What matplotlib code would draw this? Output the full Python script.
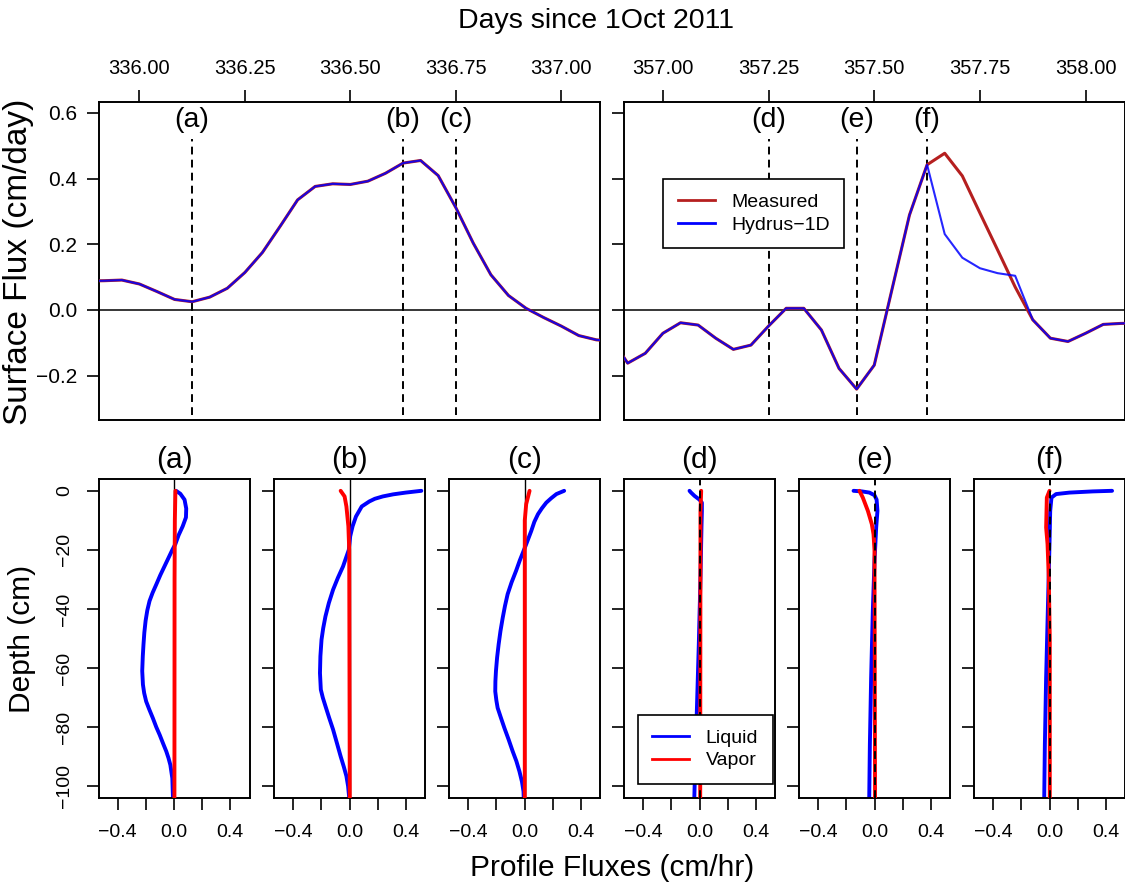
import matplotlib
matplotlib.use("Agg")
import matplotlib.pyplot as plt
from matplotlib.lines import Line2D

plt.rcParams['font.family'] = ['Liberation Sans', 'DejaVu Sans']

# hourly surface flux (cm/day); hour offsets from the start day
hours = list(range(-3, 28))
left_day0 = 336.0
right_day0 = 357.0

left_flux = [0.088, 0.089, 0.091, 0.079, 0.056, 0.032, 0.025, 0.039, 0.066,
             0.114, 0.175, 0.254, 0.335, 0.376, 0.384, 0.382, 0.392, 0.416,
             0.447, 0.455, 0.409, 0.312, 0.203, 0.107, 0.044, 0.005, -0.023,
             -0.049, -0.078, -0.091, -0.095]

right_measured = [-0.08, -0.162, -0.132, -0.071, -0.039, -0.046, -0.086,
                  -0.120, -0.107, -0.049, 0.005, 0.005, -0.061, -0.178,
                  -0.241, -0.168, 0.061, 0.289, 0.442, 0.477, 0.408, 0.295,
                  0.183, 0.070, -0.030, -0.086, -0.096, -0.071, -0.044,
                  -0.041, -0.040]
right_hydrus = [-0.08, -0.162, -0.132, -0.071, -0.039, -0.046, -0.086,
                -0.120, -0.107, -0.049, 0.005, 0.005, -0.061, -0.178,
                -0.241, -0.168, 0.061, 0.289, 0.442, 0.231, 0.159, 0.127,
                0.112, 0.104, -0.030, -0.086, -0.096, -0.071, -0.044,
                -0.041, -0.040]

left_events = [336.125, 336.625, 336.75]
right_events = [357.25, 357.4583, 357.625]
left_event_labels = ["(a)", "(b)", "(c)"]
right_event_labels = ["(d)", "(e)", "(f)"]

left_xticks = [336.0, 336.25, 336.5, 336.75, 337.0]
right_xticks = [357.0, 357.25, 357.5, 357.75, 358.0]
flux_yticks = [-0.2, 0.0, 0.2, 0.4, 0.6]

# profile fluxes (cm/hr) as (depth cm, flux) pairs
liquid_a = [(0, 0.015), (-1, 0.045), (-3, 0.075), (-6, 0.087), (-9, 0.085),
            (-12, 0.062), (-15, 0.033), (-18, 0.01), (-20, -0.012),
            (-25, -0.062), (-28.5, -0.097), (-31.7, -0.126), (-34.5, -0.152),
            (-37.3, -0.174), (-40.5, -0.19), (-44, -0.202), (-48, -0.211),
            (-52, -0.217), (-56, -0.222), (-61, -0.226), (-65.6, -0.221),
            (-68.5, -0.212), (-71.3, -0.198), (-74, -0.176), (-77, -0.15),
            (-80, -0.126), (-82.6, -0.102), (-85.5, -0.078), (-88.2, -0.055),
            (-90.5, -0.039), (-92.8, -0.026), (-97.3, -0.012),
            (-106, -0.006)]
vapor_a = [(0, 0.01), (-10, 0.006), (-30, 0.004), (-106, 0.003)]

liquid_b = [(0, 0.511), (-0.6, 0.40), (-1.2, 0.31), (-1.9, 0.237),
            (-2.7, 0.18), (-3.6, 0.141), (-5.3, 0.087), (-8.7, 0.046),
            (-12, 0.022), (-15.4, 0.005), (-20, -0.005), (-25.6, -0.046),
            (-29.5, -0.083), (-33.5, -0.117), (-38, -0.147), (-42.5, -0.171),
            (-46.5, -0.187), (-50.4, -0.199), (-56, -0.207), (-61.7, -0.21),
            (-67.3, -0.204), (-70, -0.19), (-72.9, -0.171), (-76.8, -0.145),
            (-80.8, -0.117), (-85.5, -0.089), (-89.9, -0.063),
            (-93.5, -0.04), (-96.6, -0.022), (-100, -0.01), (-104, -0.002),
            (-106, 0.0)]
vapor_b = [(0, -0.063), (-1.9, -0.035), (-5.3, -0.022), (-12, -0.008),
           (-20, -0.002), (-106, 0.002)]

liquid_c = [(0, 0.282), (-1.1, 0.227), (-2.5, 0.19), (-4, 0.155),
            (-5.9, 0.124), (-7.9, 0.096), (-10.5, 0.07), (-13.6, 0.048),
            (-18.1, 0.012), (-20.4, -0.007), (-23.5, -0.033), (-27.1, -0.06),
            (-31, -0.092), (-35, -0.12), (-39, -0.139), (-43, -0.155),
            (-47.5, -0.171), (-52, -0.184), (-56.5, -0.195), (-61, -0.203),
            (-64.5, -0.207), (-67.9, -0.208), (-71, -0.2), (-73.5, -0.191),
            (-76.8, -0.168), (-80.3, -0.143), (-84.2, -0.113),
            (-88.2, -0.084), (-91.5, -0.058), (-95, -0.036),
            (-98.5, -0.018), (-101.8, -0.007), (-106, -0.004)]
vapor_c = [(0, 0.036), (-4.5, 0.012), (-10, 0.002), (-106, 0.002)]

liquid_d = [(0, -0.071), (-0.6, -0.06), (-1.7, -0.036), (-3, 0.0),
            (-4, 0.017), (-6.8, 0.017), (-12.4, 0.014), (-29.4, 0.007),
            (-52, -0.005), (-74.7, -0.019), (-97, -0.033), (-106, -0.038)]
vapor_d = [(0, 0.012), (-6.8, 0.007), (-106, 0.005)]

liquid_e = [(0, -0.149), (-0.2, -0.09), (-0.6, -0.036), (-1.5, 0.0),
            (-3, 0.015), (-6.8, 0.021), (-12.4, 0.012), (-23.8, 0.0),
            (-40.7, -0.012), (-63.3, -0.024), (-86, -0.033), (-106, -0.038)]
vapor_e = [(0, -0.107), (-2.3, -0.083), (-6.8, -0.047), (-11.3, -0.019),
           (-14.7, -0.007), (-20, 0.0), (-106, 0.004)]

liquid_f = [(0, 0.445), (-0.2, 0.308), (-0.6, 0.142), (-1.1, 0.047),
            (-2.3, 0.014), (-6.8, 0.005), (-18, 0.0), (-40.7, -0.012),
            (-63.3, -0.024), (-86, -0.033), (-106, -0.038)]
vapor_f = [(0, 0.0), (-2.3, -0.019), (-12.4, -0.024), (-18, -0.014),
           (-29.4, -0.005), (-50, 0.002), (-106, 0.002)]

profiles = [("(a)", liquid_a, vapor_a), ("(b)", liquid_b, vapor_b),
            ("(c)", liquid_c, vapor_c), ("(d)", liquid_d, vapor_d),
            ("(e)", liquid_e, vapor_e), ("(f)", liquid_f, vapor_f)]

depth_ticks = [0, -20, -40, -60, -80, -100]
profile_xticks = [-0.4, -0.2, 0.0, 0.2, 0.4]
profile_xlabels = ["\u22120.4", "", "0.0", "", "0.4"]

W, H = 1125, 890
fig = plt.figure(figsize=(W / 100, H / 100), dpi=100)


def px_axes(x0, y0, x1, y1):
    return fig.add_axes([x0 / W, 1 - y1 / H, (x1 - x0) / W, (y1 - y0) / H])


def style(ax, size):
    for s in ax.spines.values():
        s.set_linewidth(1.4)
    ax.tick_params(direction="out", length=8.5, width=1.2, labelsize=size,
                   color="black")


def boxed_legend(ax, handles, labels, **kw):
    leg = ax.legend(handles, labels, fontsize=14, frameon=True,
                    fancybox=False, handlelength=1.9, handletextpad=0.85,
                    borderpad=0.75, labelspacing=0.25, borderaxespad=0,
                    **kw)
    leg.get_frame().set_edgecolor("black")
    leg.get_frame().set_linewidth(1.2)
    leg.get_frame().set_alpha(1)
    return leg


measured_col = "#b51f1f"
hydrus_col = "#0000ff"
dash = (0, (4, 2.7))

# top panels
top_specs = [
    (98.5, 600, left_day0, left_flux, left_flux, left_events,
     left_event_labels, left_xticks, (335.903, 337.092), True),
    (624, 1124.5, right_day0, right_measured, right_hydrus, right_events,
     right_event_labels, right_xticks, (356.908, 358.092), False),
]
for (x0, x1, day0, meas, hyd, events, elabels, xt, xl, show_y) in top_specs:
    ax = px_axes(x0, 102, x1, 420)
    style(ax, 14.5)
    days = [day0 + h / 24 for h in hours]
    ax.axhline(0, color="black", lw=1.1, zorder=1)
    for ev, lab in zip(events, elabels):
        ax.plot([ev, ev], [-0.32, 0.52], color="black", lw=1.4, ls=dash,
                zorder=2)
        ax.text(ev, 0.578, lab, ha="center", va="center", fontsize=20.5)
    ax.plot(days, meas, color=measured_col, lw=2.2, zorder=3)
    ax.plot(days, hyd, color=hydrus_col, lw=1.5, alpha=0.85, zorder=4)
    ax.set_xlim(*xl)
    ax.set_ylim(-0.335, 0.633)
    ax.xaxis.tick_top()
    ax.set_xticks(xt)
    ax.set_xticklabels([f"{v:.2f}" for v in xt])
    ax.tick_params(axis="x", pad=9)
    ax.set_yticks(flux_yticks)
    if show_y:
        ax.set_yticklabels(["\u22120.2", "0.0", "0.2", "0.4", "0.6"],
                           fontsize=15)
        ax.tick_params(axis="y", pad=7)
    else:
        ax.set_yticklabels([])
        handles = [Line2D([], [], color=measured_col, lw=2),
                   Line2D([], [], color=hydrus_col, lw=2)]
        boxed_legend(ax, handles, ["Measured", "Hydrus\u22121D"],
                     loc="upper left", bbox_to_anchor=(0.078, 0.758))

# bottom profile panels
lefts = [98.5, 274, 449, 624, 799, 974]
for i, (lab, liq, vap) in enumerate(profiles):
    ax = px_axes(lefts[i], 479, lefts[i] + 151, 798)
    style(ax, 14)
    if i < 3:
        ax.axvline(0, color="black", lw=1.0, zorder=1)
    ax.plot([p[1] for p in liq], [p[0] for p in liq], color="#0000ff",
            lw=2.8, zorder=2, solid_capstyle="round")
    ax.plot([p[1] for p in vap], [p[0] for p in vap], color="#ff0000",
            lw=2.8, zorder=3, solid_capstyle="round")
    if i >= 3:
        ax.axvline(0, color="black", lw=1.4, ls=dash, zorder=4)
    ax.set_xlim(-0.537, 0.537)
    ax.set_ylim(-104, 4)
    ax.set_xticks(profile_xticks)
    ax.set_xticklabels(profile_xlabels)
    ax.tick_params(axis="x", pad=10)
    ax.set_yticks(depth_ticks)
    if i == 0:
        ax.set_yticklabels(["0", "\u221220", "\u221240", "\u221260",
                            "\u221280", "\u2212100"], rotation=90,
                           va="center")
        ax.tick_params(axis="y", pad=10)
    else:
        ax.set_yticklabels([])
    ax.annotate(lab, xy=(0.5, 1), xycoords="axes fraction",
                xytext=(0, 14), textcoords="offset points",
                ha="center", va="center", fontsize=21.5)
    if i == 3:
        handles = [Line2D([], [], color="#0000ff", lw=2),
                   Line2D([], [], color="#ff0000", lw=2)]
        boxed_legend(ax, handles, ["Liquid", "Vapor"], loc="lower right",
                     bbox_to_anchor=(0.985, 0.044))

fig.text(596.5 / W, 1 - 21 / H, "Days since 1Oct 2011", ha="center",
         va="center", fontsize=20.5)
fig.text(612 / W, 1 - 868 / H, "Profile Fluxes (cm/hr)", ha="center",
         va="center", fontsize=21.5)
fig.text(19 / W, 1 - 262 / H, "Surface Flux (cm/day)", ha="center",
         va="center", rotation=90, fontsize=24)
fig.text(22 / W, 1 - 639 / H, "Depth (cm)", ha="center", va="center",
         rotation=90, fontsize=21.5)

fig.savefig("out.png", dpi=100, facecolor="white")
